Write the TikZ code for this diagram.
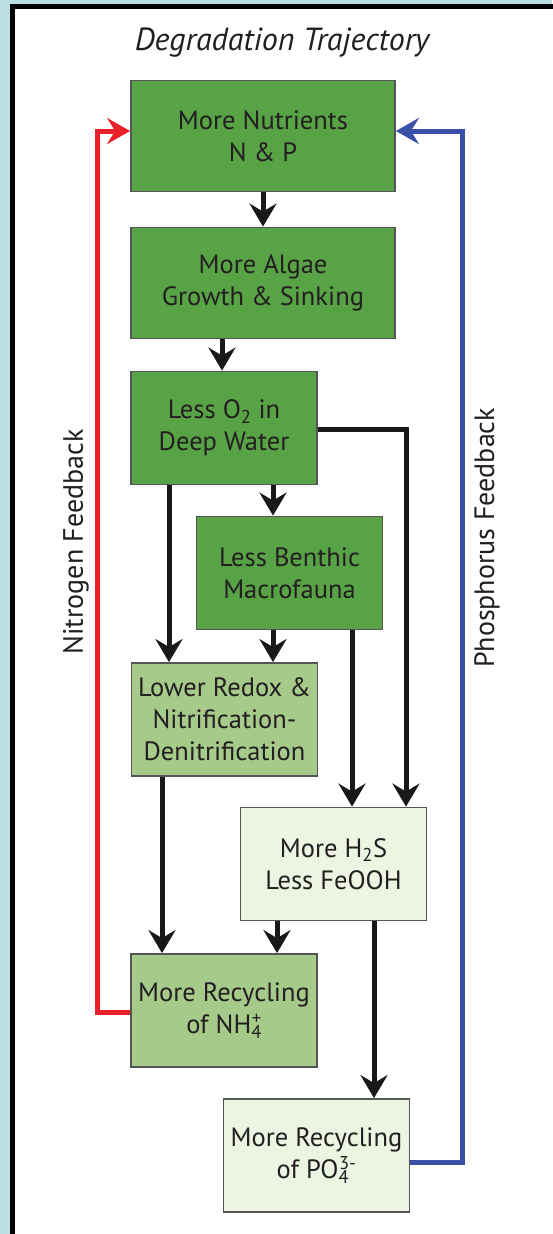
\documentclass[tikz,border=0pt]{standalone}
\usepackage{fontspec}
\setmainfont{PT Sans}
\usetikzlibrary{arrows.meta,calc}

\definecolor{panelblue}{RGB}{186,223,227}
\definecolor{darkgreen}{RGB}{88,163,70}
\definecolor{midgreen}{RGB}{166,202,138}
\definecolor{palegreen}{RGB}{236,244,226}
\definecolor{boxline}{RGB}{85,85,85}
\definecolor{inktext}{RGB}{35,31,32}
\definecolor{nred}{RGB}{232,32,42}
\definecolor{pblue}{RGB}{58,79,168}

% subscript with a superscript set over it, as in chemical formulas
\newcommand{\ionsub}[2]{\textsubscript{\rlap{#1}}\textsuperscript{#2}}

\tikzset{
  stage/.style={draw=boxline, line width=1.8pt, minimum width=186pt, minimum height=113pt,
    inner sep=0pt, align=center, text=inktext,
    font=\fontsize{26.5}{32}\selectfont},
  wide/.style={minimum width=264pt, minimum height=111pt},
  dark/.style={fill=darkgreen},
  mid/.style={fill=midgreen},
  pale/.style={fill=palegreen},
  flow/.style={line width=5pt, draw=black!90,
    -{Stealth[length=23pt, width=27pt, inset=8pt]}},
  feedback/.style={line width=5pt,
    -{Stealth[length=23pt, width=26pt, inset=8pt]}},
  sidelabel/.style={rotate=90, text=inktext, font=\fontsize{28}{32}\selectfont}
}

\begin{document}
\begin{tikzpicture}[x=1pt, y=-1pt]
  \useasboundingbox (0,0) rectangle (552,1234);
  \fill[panelblue] (0,0) rectangle (552,1234);
  \draw[line width=5pt, fill=white] (12,6) rectangle (570,1250);

  \node[text=inktext, font=\fontsize{32}{36}\selectfont\itshape] (title) at (282,43) {Degradation Trajectory};

  % stages of the trajectory
  \node[stage, wide, dark] (b1) at (263,136) {More Nutrients\\N \& P};
  \node[stage, wide, dark] (b2) at (263,283) {More Algae\\Growth \& Sinking};
  \node[stage, dark] (b3) at (224,428) {Less O\textsubscript{2} in\\Deep Water};
  \node[stage, dark] (b4) at (289.5,573) {Less Benthic\\Macrofauna};
  \node[stage, mid] (b5) at (224.5,719.5) {Lower Redox \&\\Nitrification-\\Denitrification};
  \node[stage, pale] (b6) at (333.5,864) {More H\textsubscript{2}S\\Less FeOOH};
  \node[stage, mid] (b7) at (224,1010.5) {More Recycling\\of NH\ionsub{4}{+}};
  \node[stage, pale] (b8) at (316.5,1155.5) {More Recycling\\of PO\ionsub{4}{3-}};

  % turning points of the two feedback loops
  \coordinate (nturn) at (97,0);
  \coordinate (pturn) at (462,0);

  % main flow
  \draw[flow] (b1.south) -- (b2.north);
  \draw[flow] ([xshift=-2pt]b3.north |- b2.south) -- ([xshift=-2pt]b3.north);
  \draw[flow] ([xshift=49pt]b3.south) -- ([xshift=49pt]b3.south |- b4.north);
  \draw[flow] ([xshift=-55pt]b3.south) -- ([xshift=-55pt]b3.south |- b5.north);
  \draw[flow] ([xshift=-16.5pt]b4.south) -- ([xshift=-16.5pt]b4.south |- b5.north);
  \draw[flow] ([yshift=-1.5pt]b3.east) -| ([xshift=72.5pt]b6.north);
  \draw[flow] ([xshift=62.5pt]b4.south) -- ([xshift=62.5pt]b4.south |- b6.north);
  \draw[flow] ([xshift=-62.5pt]b5.south) -- ([xshift=-62.5pt]b5.south |- b7.north);
  \draw[flow] ([xshift=-56.5pt]b6.south) -- ([xshift=-56.5pt]b6.south |- b7.north);
  \draw[flow] ([xshift=40.5pt]b6.south) -- ([xshift=40.5pt]b6.south |- b8.north);

  % feedback loops
  \draw[feedback, draw=nred, color=nred]
    ([yshift=-1.5pt]b7.west) -| (nturn |- b1.west) |- ([yshift=5pt]b1.west);
  \draw[feedback, draw=pblue, color=pblue]
    ([yshift=-6.5pt]b8.east) -| (pturn |- b1.east) |- ([yshift=5pt]b1.east);

  \node[sidelabel] (nlabel) at (76,542) {Nitrogen Feedback};
  \node[sidelabel] (plabel) at (487,538) {Phosphorus Feedback};
\end{tikzpicture}
\end{document}
